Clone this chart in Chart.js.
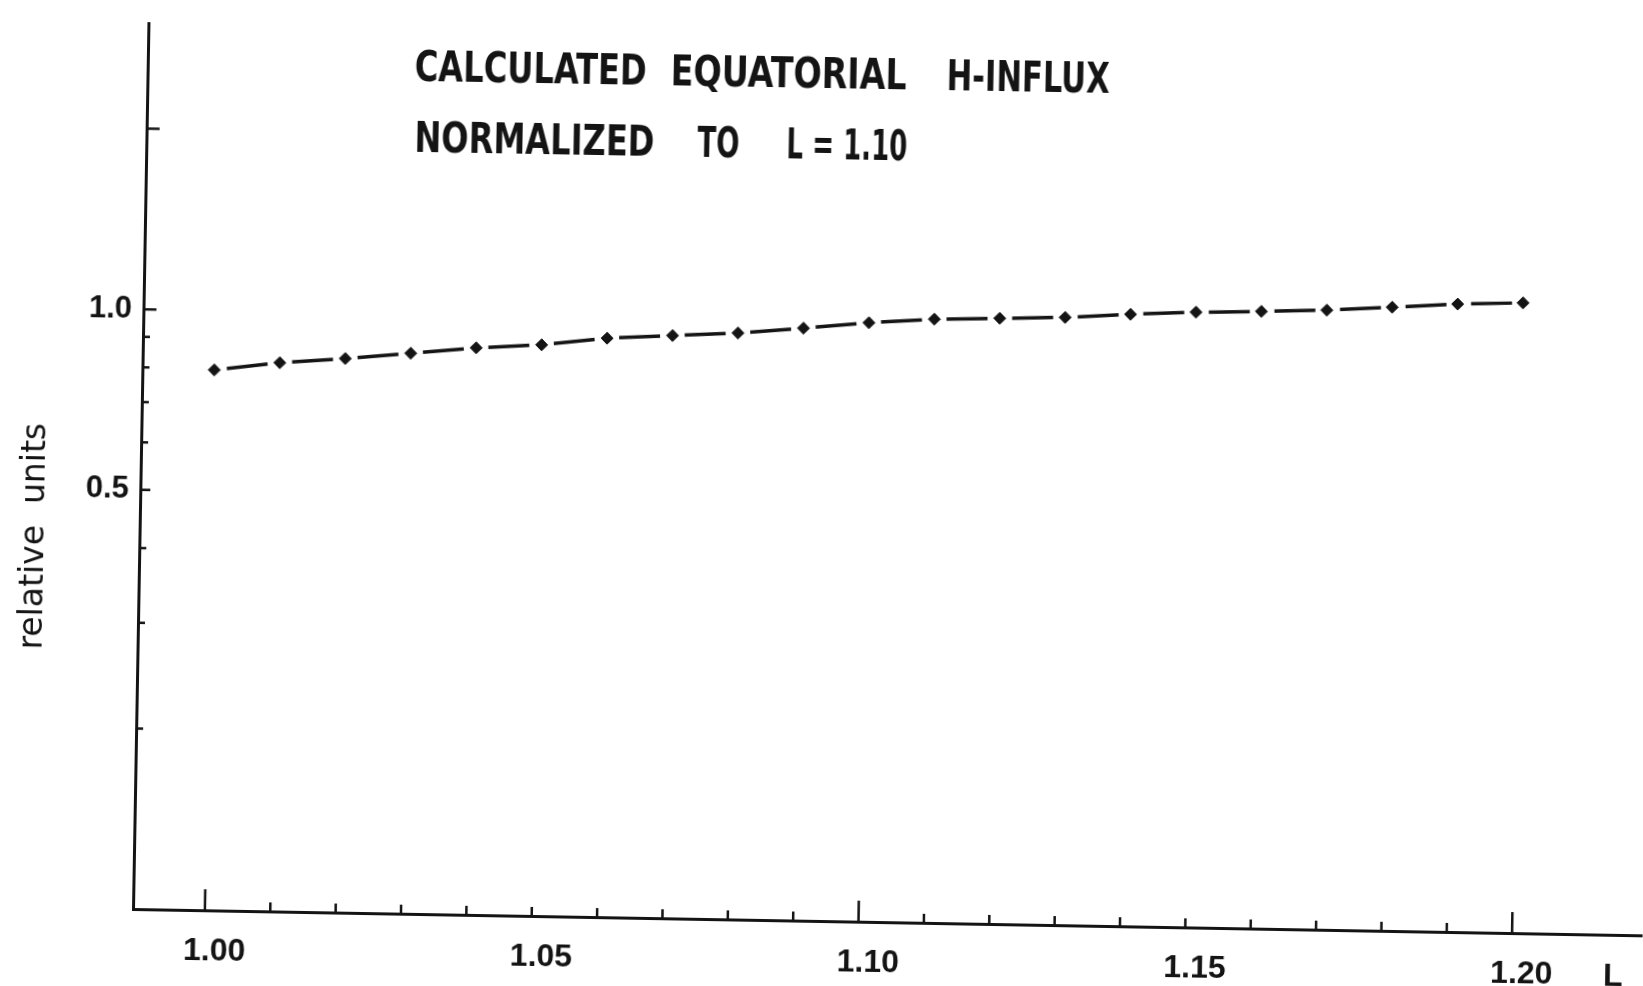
<!DOCTYPE html>
<html>
<head>
<meta charset="utf-8">
<title>Calculated equatorial H-influx</title>
<script src="https://cdn.jsdelivr.net/npm/chart.js@4.4.1/dist/chart.umd.min.js"></script>
<style>
    html, body { margin: 0; padding: 0; background: #fff; overflow: hidden; }
    /* the scanned original sits about one degree askew on the page */
    #wrap { position: relative; width: 1643px; height: 986px; transform: rotate(1deg); transform-origin: 133px 909px; }
</style>
</head>
<body>
<div id="wrap"><canvas id="influxChart"></canvas></div>
<script>
//Data------------------------------------------------------------------------------------------------------------------
var lValues = [1.00, 1.01, 1.02, 1.03, 1.04, 1.05, 1.06, 1.07, 1.08, 1.09, 1.10,
               1.11, 1.12, 1.13, 1.14, 1.15, 1.16, 1.17, 1.18, 1.19, 1.20];
var hInflux = [0.796, 0.822, 0.839, 0.860, 0.882, 0.896, 0.923, 0.937, 0.950, 0.972, 0.997,
               1.015, 1.023, 1.031, 1.048, 1.061, 1.069, 1.079, 1.096, 1.114, 1.124];

var xTickLabels = [1.00, 1.05, 1.10, 1.15, 1.20];
var xTickMarks = [1.00, 1.01, 1.02, 1.03, 1.04, 1.05, 1.06, 1.07, 1.08, 1.09, 1.10,
                  1.11, 1.12, 1.13, 1.14, 1.15, 1.16, 1.17, 1.18, 1.19, 1.20];
var xLongTickMarks = [1.00, 1.10, 1.20];
var yTickLabels = [0.5, 1.0];
var yTickMarks = [0.2, 0.3, 0.4, 0.5, 0.6, 0.7, 0.8, 0.9, 1.0, 2.0];
var yLongTickMarks = [1.0, 2.0];

var titleLines = [
    ['CALCULATED', 'EQUATORIAL', 'H-INFLUX'],
    ['NORMALIZED', 'TO', 'L = 1.10']
];
var yAxisTitle = 'relative  units';
var xAxisTitle = 'L';

var ink = '#141414';

//Plugin: inward tick marks and the lettering----------------------------------------------------------------------------
var letteringPlugin = {
    id: 'lettering',
    afterDraw: function (chart) {
        var ctx = chart.ctx;
        var area = chart.chartArea;
        var xs = chart.scales.x;
        var ys = chart.scales.y;

        ctx.save();
        ctx.strokeStyle = ink;
        ctx.lineWidth = 2.5;
        ctx.beginPath();
        xTickMarks.forEach(function (v) {
            var px = xs.getPixelForValue(v);
            var len = xLongTickMarks.indexOf(v) >= 0 ? 21 : 9;
            ctx.moveTo(px, area.bottom);
            ctx.lineTo(px, area.bottom - len);
        });
        yTickMarks.forEach(function (v) {
            var py = ys.getPixelForValue(v);
            var len = yLongTickMarks.indexOf(v) >= 0 ? 13 : (v === 0.5 ? 10 : 7);
            ctx.moveTo(area.left, py);
            ctx.lineTo(area.left + len, py);
        });
        ctx.stroke();

        // title block, each word squeezed to the width of the stencil lettering
        var wordX = [[400, 656, 932], [401, 684, 773]];
        var wordW = [[232, 236, 163], [240, 42, 121]];
        var lineY = [76, 147];
        ctx.fillStyle = ink;
        ctx.font = 'bold 43px "Liberation Sans Narrow", "DejaVu Sans Condensed", sans-serif';
        ctx.textAlign = 'left';
        ctx.textBaseline = 'alphabetic';
        titleLines.forEach(function (words, i) {
            words.forEach(function (w, j) {
                var m = ctx.measureText(w).width;
                ctx.save();
                ctx.translate(wordX[i][j], lineY[i]);
                ctx.scale(wordW[i][j] / m, 1);
                ctx.fillText(w, 0, 0);
                ctx.restore();
            });
        });

        // axis titles
        ctx.font = '33px "DejaVu Sans", sans-serif';
        ctx.save();
        ctx.translate(37, 538);
        ctx.rotate(-Math.PI / 2);
        ctx.textAlign = 'center';
        ctx.fillText(yAxisTitle, 0, 0);
        ctx.restore();

        ctx.font = 'bold 32px "Liberation Sans", sans-serif';
        ctx.fillText(xAxisTitle, 1604, 960);
        ctx.restore();
    }
};

//Chart------------------------------------------------------------------------------------------------------------------
var influxChart = document.getElementById('influxChart');

if (influxChart) {

    var chart = new Chart(influxChart, {
        type: 'scatter',
        data: {
            datasets: [{
                label: 'H-influx',
                data: lValues.map(function (l, i) { return { x: l, y: hInflux[i] }; }),
                showLine: true,
                borderColor: ink,
                borderWidth: 3.5,
                borderDash: [41, 24.6],
                borderDashOffset: 53,
                pointStyle: 'rectRot',
                pointRadius: 6,
                pointBackgroundColor: ink,
                pointBorderColor: ink,
                pointBorderWidth: 1
            }]
        },

        options: {
            responsive: true,
            maintainAspectRatio: false,
            animation: false,
            layout: {
                autoPadding: false,
                padding: { top: 23, left: 0, right: 0, bottom: 0 }
            },
            plugins: {
                legend: { display: false },
                tooltip: { enabled: false }
            },
            scales: {
                x: {
                    type: 'linear',
                    min: 0.989,
                    max: 1.22,
                    afterFit: function (scale) {
                        scale.height = 77;
                        scale.paddingLeft = 0;
                        scale.paddingRight = 0;
                    },
                    afterBuildTicks: function (scale) {
                        scale.ticks = xTickLabels.map(function (v) { return { value: v }; });
                    },
                    ticks: {
                        autoSkip: false,
                        maxRotation: 0,
                        padding: 22,
                        labelOffset: 10,
                        color: ink,
                        font: { family: '"Liberation Sans", sans-serif', size: 32, weight: 'bold' },
                        callback: function (v) { return v.toFixed(2); }
                    },
                    grid: { display: false, drawTicks: false },
                    border: { display: true, width: 3, color: ink }
                },
                y: {
                    type: 'logarithmic',
                    min: 0.1,
                    max: 3,
                    afterFit: function (scale) {
                        scale.width = 133;
                        // keep the label half-heights from pushing the plot down
                        scale.paddingTop = 0;
                        scale.paddingBottom = 0;
                    },
                    afterBuildTicks: function (scale) {
                        scale.ticks = yTickLabels.map(function (v) { return { value: v }; });
                    },
                    ticks: {
                        autoSkip: false,
                        padding: 11.5,
                        color: ink,
                        font: { family: '"Liberation Sans", sans-serif', size: 31, weight: 'bold' },
                        callback: function (v) { return v.toFixed(1); }
                    },
                    grid: { display: false, drawTicks: false },
                    border: { display: true, width: 3, color: ink }
                }
            }
        },
        plugins: [letteringPlugin]
    });
}
</script>
</body>
</html>
